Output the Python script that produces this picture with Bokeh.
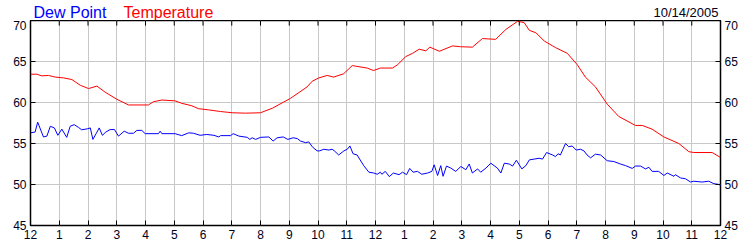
from bokeh.plotting import figure
from bokeh.models import Range1d, LinearAxis, FixedTicker
from bokeh.layouts import column
from bokeh.core.properties import value
from bokeh.embed import file_html
from bokeh.resources import INLINE

# Hours after midnight, 10/14/2005
temp_hours = [0.0, 0.22, 0.39, 0.63, 0.86, 1.15, 1.44, 1.73, 2.02, 2.31, 2.60, 3.00, 3.41, 4.10, 4.28,
              4.57, 5.03, 5.26, 5.61, 5.84, 6.19, 6.61, 7.02, 7.48, 8.00, 8.41, 9.04, 9.62, 9.80, 10.03,
              10.32, 10.54, 10.89, 11.19, 11.71, 11.93, 12.17, 12.59, 12.77, 13.05, 13.29, 13.52, 13.75,
              13.89, 14.22, 14.68, 14.96, 15.37, 15.72, 16.18, 16.53, 16.94, 17.17, 17.35, 17.58, 17.87,
              18.16, 18.26, 18.67, 19.02, 19.30, 19.65, 20.06, 20.46, 21.04, 21.28, 21.62, 22.03, 22.55,
              22.90, 23.07, 23.71, 24.0]
temp_vals = [63.45, 63.45, 63.25, 63.3, 63.1, 63.0, 62.8, 62.1, 61.7, 62.0, 61.25, 60.4, 59.7, 59.7, 60.1,
             60.3, 60.2, 59.9, 59.6, 59.25, 59.1, 58.9, 58.75, 58.7, 58.75, 59.3, 60.5, 61.9, 62.6, 63.0,
             63.3, 63.1, 63.5, 64.5, 64.2, 63.9, 64.2, 64.2, 64.6, 65.6, 66.0, 66.5, 66.3,
             66.75, 66.25, 66.9, 66.8, 66.75, 67.8, 67.7, 68.9, 69.9, 69.75, 68.8, 68.5, 67.5,
             66.9, 66.7, 66.0, 64.6, 63.1, 61.9, 59.8, 58.3, 57.2, 57.2, 56.75, 55.8, 55.0,
             54.0, 53.9, 53.9, 53.3]

dew_hours = [0.0, 0.16, 0.25, 0.45, 0.57, 0.69, 0.83, 0.95, 1.09, 1.26, 1.38, 1.52, 1.67, 1.78, 1.99,
             2.08, 2.17, 2.29, 2.39, 2.50, 2.62, 2.77, 2.92, 3.06, 3.26, 3.41, 3.58, 3.70, 3.87, 3.99,
             4.45, 4.51, 4.57, 5.03, 5.26, 5.50, 5.67, 5.90, 6.13, 6.38, 6.55, 6.61, 6.96, 7.05, 7.25,
             7.54, 7.63, 7.71, 7.83, 8.00, 8.29, 8.44, 8.58, 8.79, 8.95, 9.14, 9.28, 9.39, 9.57, 9.68,
             9.80, 9.97, 10.06, 10.20, 10.38, 10.49, 10.57, 10.72, 10.90, 11.02, 11.11, 11.22, 11.36,
             11.59, 11.77, 11.94, 12.06, 12.17, 12.22, 12.34, 12.48, 12.62, 12.82, 12.94, 13.08, 13.19,
             13.31, 13.46, 13.61, 13.81, 13.96, 14.04, 14.16, 14.27, 14.35, 14.47, 14.62, 14.79, 14.97,
             15.14, 15.26, 15.37, 15.55, 15.66, 15.84, 16.01, 16.24, 16.36, 16.48, 16.65, 16.77, 16.90,
             17.09, 17.23, 17.35, 17.52, 17.69, 17.81, 17.95, 18.16, 18.26, 18.35, 18.43, 18.61, 18.72,
             18.84, 18.98, 19.13, 19.25, 19.36, 19.48, 19.65, 19.83, 20.06, 20.29, 20.52, 20.70, 20.93,
             21.04, 21.22, 21.39, 21.51, 21.62, 21.85, 22.03, 22.15, 22.38, 22.43, 22.61, 22.78, 22.96,
             23.07, 23.36, 23.59, 23.77, 23.97, 24.0]
dew_vals = [56.3, 56.4, 57.6, 55.8, 55.9, 57.1, 56.9, 56.0, 56.75, 55.75, 57.1, 57.3, 56.96, 56.67, 56.8,
            56.9, 55.5, 56.25, 56.9, 56.0, 56.4, 56.7, 56.7, 55.9, 56.5, 56.25, 56.25, 56.6, 56.6, 56.2,
            56.2, 56.5, 56.2, 56.2, 55.96, 56.3, 56.25, 56.0, 56.1, 56.0, 55.8, 55.96, 55.96, 56.2, 55.9,
            55.75, 55.5, 55.7, 55.5, 55.75, 55.8, 55.3, 55.7, 55.8, 55.5, 55.7, 55.6, 55.3, 55.1, 55.2,
            54.6, 54.1, 54.1, 54.3, 54.2, 54.3, 54.1, 53.6, 54.1, 54.3, 54.7, 53.75, 53.6,
            52.3, 51.5, 51.4, 51.25, 51.5, 51.25, 51.6, 50.96, 51.4, 51.2, 51.5, 51.2, 51.96,
            51.5, 51.6, 51.25, 51.4, 51.6, 52.4, 51.1, 52.3, 51.0, 52.25, 52.0, 51.6, 52.2,
            51.8, 52.5, 51.4, 51.9, 51.5, 52.0, 52.6, 52.0, 51.4, 52.6, 52.5, 52.25, 52.96,
            51.9, 52.3, 53.0, 53.1, 53.2, 53.1, 53.9, 53.6, 53.4, 53.75, 53.6, 55.0, 54.6,
            54.7, 54.2, 54.3, 54.1, 53.6, 53.25, 53.7, 53.6, 52.9, 52.8, 52.5, 52.3, 51.96,
            52.25, 52.25, 51.9, 52.1, 51.6, 51.6, 51.1, 51.4, 51.0, 51.2, 50.8, 50.7, 50.3,
            50.4, 50.3, 50.4, 50.1, 50.0, 49.8]

x_ticks = list(range(0, 25))
x_tick_labels = ["12", "1", "2", "3", "4", "5", "6", "7", "8", "9", "10", "11",
                 "12", "1", "2", "3", "4", "5", "6", "7", "8", "9", "10", "11", "12"]
y_ticks = [45, 50, 55, 60, 65, 70]
date_text = "10/14/2005"
series_names = ["Dew Point", "Temperature"]

FONT = "Liberation Sans"
DEW_COLOR = "#0000ff"
TEMP_COLOR = "#ff0000"
LABEL_COLOR = "#000020"
Y_MIN, Y_MAX = 45, 70
TICK_LEN = 0.625   # 5 px at 8 px per degree

# ---- header strip (legend words + date); its frame is aligned with the chart frame (x 30..720) ----
head = figure(width=750, height=20, output_backend="svg", toolbar_location=None,
              x_range=Range1d(30, 720), y_range=Range1d(0, 20),
              min_border=0, min_border_left=30, min_border_right=30,
              x_axis_location=None, y_axis_location=None)
head.xgrid.visible = False
head.ygrid.visible = False
head.outline_line_color = None
head.background_fill_color = "white"
head.border_fill_color = "white"
head.text(x=[33], y=[8.5], text=[series_names[0]], text_font=value(FONT), text_font_size="16px",
          text_color=DEW_COLOR, text_baseline="alphabetic", text_align="left")
head.text(x=[123], y=[8.5], text=[series_names[1]], text_font=value(FONT), text_font_size="16px",
          text_color=TEMP_COLOR, text_baseline="alphabetic", text_align="left")
head.text(x=[718], y=[8.5], text=[date_text], text_font=value(FONT), text_font_size="13px",
          text_color=LABEL_COLOR, text_baseline="alphabetic", text_align="right")

# ---- main chart ----
p = figure(width=750, height=230, output_backend="svg", toolbar_location=None,
           x_range=Range1d(0, 24), y_range=Range1d(Y_MIN, Y_MAX),
           min_border_left=30, min_border_right=30, min_border_top=0, min_border_bottom=25,
           y_axis_location=None, x_axis_location=None)
p.outline_line_color = "black"
p.outline_line_width = 1.5
p.background_fill_color = "white"
p.border_fill_color = "white"

xt = FixedTicker(ticks=x_ticks, minor_ticks=[])
yt = FixedTicker(ticks=y_ticks, minor_ticks=[])
overrides = {t: lab for t, lab in zip(x_ticks, x_tick_labels)}


def style_axis(ax):
    ax.axis_line_color = None
    ax.major_tick_in = 5
    ax.major_tick_out = 0
    ax.major_tick_line_color = "black"
    ax.minor_tick_line_color = None
    ax.major_label_text_font = FONT
    ax.major_label_text_font_size = "12px"
    ax.major_label_text_color = LABEL_COLOR
    ax.major_label_standoff = 4


bottom = LinearAxis(ticker=xt, major_label_overrides=overrides)
style_axis(bottom)
p.add_layout(bottom, "below")

left = LinearAxis(ticker=yt)
style_axis(left)
p.add_layout(left, "left")
right = LinearAxis(ticker=yt)
style_axis(right)
p.add_layout(right, "right")

p.xgrid.ticker = xt
p.ygrid.ticker = yt
for g in (p.xgrid, p.ygrid):
    g.grid_line_color = "#c8c8c8"
    g.grid_line_width = 1

p.line(temp_hours, temp_vals, line_color=TEMP_COLOR, line_width=1)
p.line(dew_hours, dew_vals, line_color=DEW_COLOR, line_width=1)

# inward hour ticks along the top edge of the frame
p.segment(x0=x_ticks, y0=[Y_MAX] * len(x_ticks), x1=x_ticks, y1=[Y_MAX - TICK_LEN] * len(x_ticks),
          line_color="black", line_width=1)

layout = column(head, p, spacing=0)
open("out.html", "w").write(file_html(layout, INLINE))
